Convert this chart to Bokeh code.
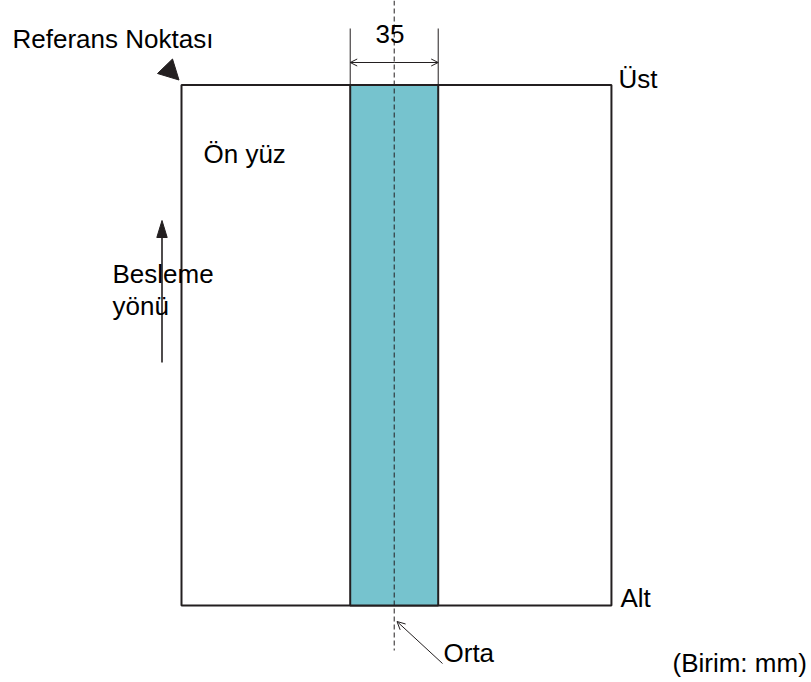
from bokeh.plotting import figure
from bokeh.models import Range1d, Arrow, OpenHead
from bokeh.embed import file_html
from bokeh.resources import INLINE
from bokeh.core.properties import value

# ---- diagram data (millimetres) ----
page_width = 171
page_height = 207
band_width = 35
centre_pos = 84.6          # centre line, measured from left page edge
dimension_label = "35"
side_labels = ["Üst", "Alt"]
face_label = "Ön yüz"
feed_labels = ["Besleme", "yönü"]
ref_label = "Referans Noktası"
centre_label = "Orta"
unit_label = "(Birim: mm)"

# ---- layout helpers (window pixel -> mm) ----
S = 88 / 35.0               # px per mm
W, H = 811, 682
PX0, PY0 = 181, 605         # page left / bottom in window pixels


def X(px):
    return (px - PX0) / S


def Y(py):
    return (PY0 - py) / S


INK = "#231F20"
FONT = value("Liberation Sans")
FS = "26px"

p = figure(width=W, height=H, output_backend="svg", toolbar_location=None,
           x_range=Range1d(X(0), X(W)), y_range=Range1d(Y(H), Y(0)),
           min_border=0, background_fill_color="white", border_fill_color="white")
p.axis.visible = False
p.grid.visible = False
p.outline_line_color = None

# page
p.quad(left=[0], right=[page_width], bottom=[0], top=[page_height],
       fill_color="white", line_color=INK, line_width=2)

# band
bl = centre_pos - band_width / 2
br = centre_pos + band_width / 2
p.quad(left=[bl], right=[br], bottom=[0], top=[page_height],
       fill_color="#76C3CE", line_color=INK, line_width=2)

# centre dashed line
p.segment(x0=[centre_pos], y0=[Y(0)], x1=[centre_pos], y1=[Y(650)],
          line_color=INK, line_width=1, line_dash="5 3")

# dimension extension lines
p.segment(x0=[bl, br], y0=[page_height, page_height], x1=[bl, br], y1=[Y(28), Y(28)],
          line_color=INK, line_width=1)
# dimension arrow (both directions)
ymid = Y(62)
p.add_layout(Arrow(x_start=centre_pos, y_start=ymid, x_end=bl, y_end=ymid,
                   end=OpenHead(size=7, line_color=INK, line_width=1),
                   line_color=INK, line_width=1))
p.add_layout(Arrow(x_start=centre_pos, y_start=ymid, x_end=br, y_end=ymid,
                   end=OpenHead(size=7, line_color=INK, line_width=1),
                   line_color=INK, line_width=1))

# reference point triangle
p.patch(x=[X(157), X(172), X(178.5)], y=[Y(73), Y(58.5), Y(79.5)],
        fill_color=INK, line_color=INK, line_width=1)

# feed direction arrow
p.segment(x0=[X(161.5)], y0=[Y(362)], x1=[X(161.5)], y1=[Y(236)],
          line_color=INK, line_width=1.6)
p.patch(x=[X(161.5), X(156.3), X(166.7)], y=[Y(220), Y(237), Y(237)],
        fill_color=INK, line_color=INK, line_width=1)

# centre pointer
p.add_layout(Arrow(x_start=X(442), y_start=Y(663), x_end=X(396.5), y_end=Y(621),
                   end=OpenHead(size=8, line_color=INK, line_width=1),
                   line_color=INK, line_width=1))

# texts (left aligned)
DY = 10
tx = [X(12), X(375), X(618), X(203), X(112), X(112), X(620), X(443), X(672)]
ty = [Y(48 - DY), Y(43 - DY), Y(88 - DY), Y(163 - DY), Y(283 - DY), Y(315 - DY),
      Y(607 - DY), Y(662 - DY), Y(672 - DY)]
tt = [ref_label, dimension_label, side_labels[0], face_label,
      feed_labels[0], feed_labels[1], side_labels[1], centre_label, unit_label]
p.text(x=tx, y=ty, text=tt, text_font=FONT, text_font_size=FS,
       text_color="black", text_align="left", text_baseline="alphabetic")

open("out.html", "w").write(file_html(p, INLINE))
